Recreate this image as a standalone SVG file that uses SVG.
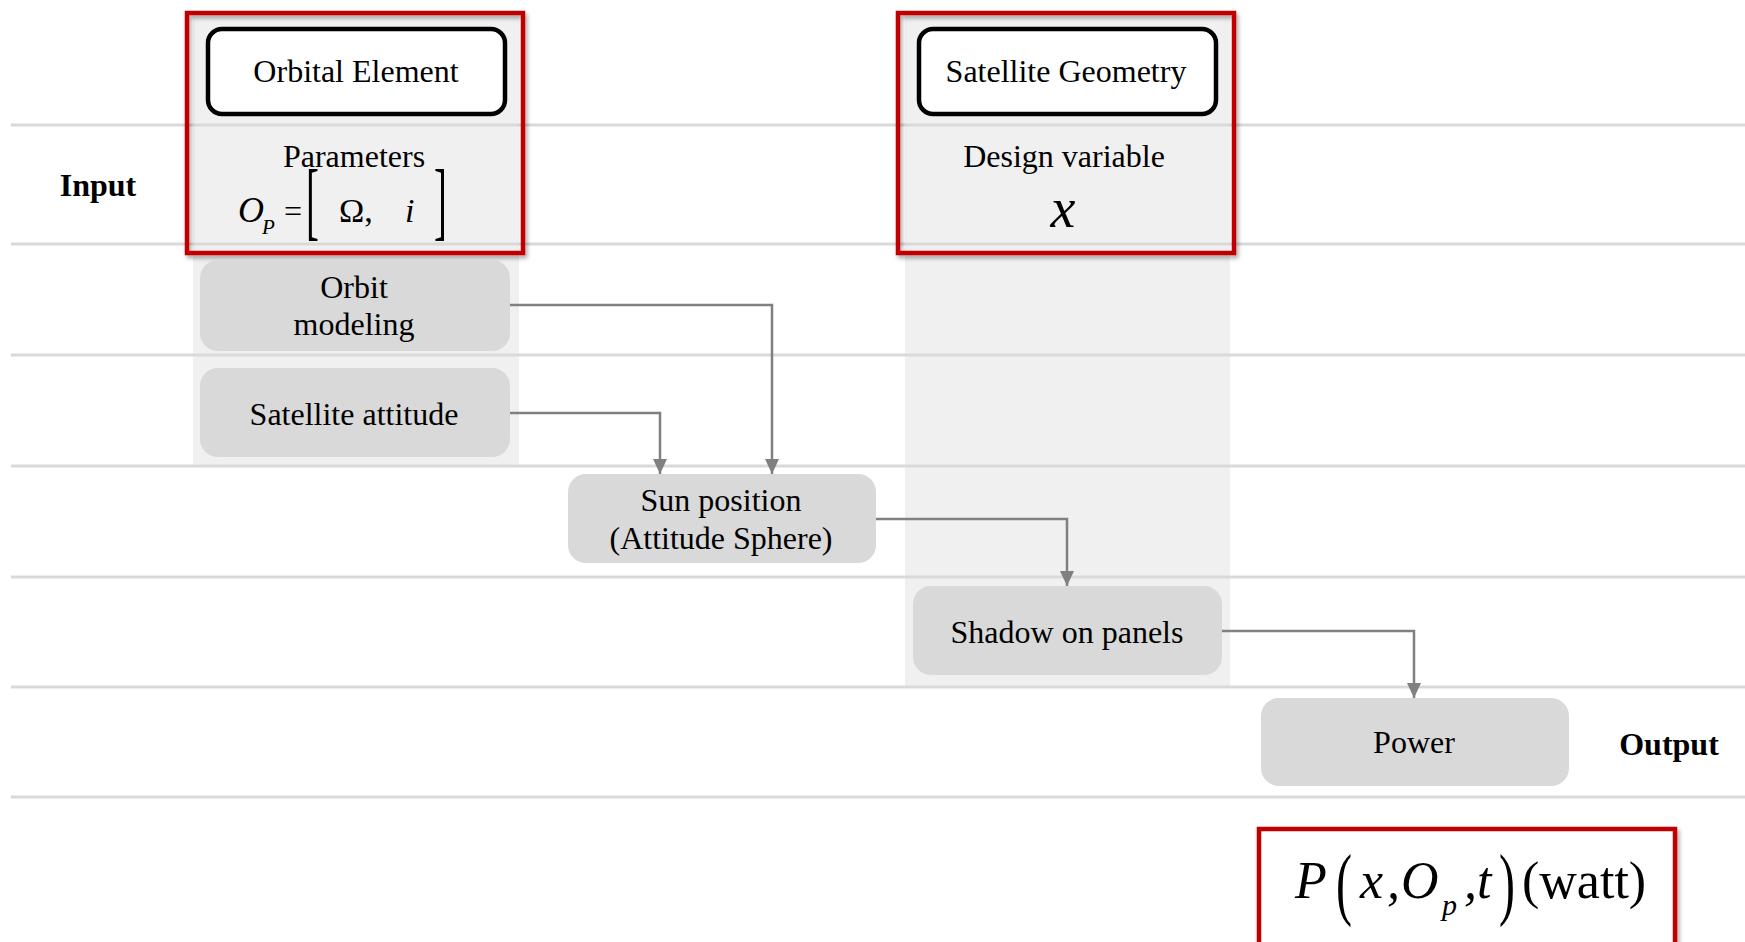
<svg xmlns="http://www.w3.org/2000/svg" width="1745" height="942" viewBox="0 0 1745 942">
<defs>
<style>
.lane{stroke:#d9d9d9;stroke-width:3}
.col{fill:#f0f0f0}
.node{fill:#d9d9d9}
.hdr{fill:#fff;stroke:#000;stroke-width:4.5}
.red{stroke:#c00000;stroke-width:4.5}
.t{font-family:"Liberation Serif","Times New Roman",serif;font-size:32px;fill:#000;text-anchor:middle}
.m{font-family:"Liberation Serif","Times New Roman",serif;fill:#000}
.b{font-weight:bold}
.it{font-style:italic}
.conn{fill:none;stroke:#808080;stroke-width:2.5}
</style>
<marker id="arr" markerWidth="16" markerHeight="14" refX="15" refY="7" orient="auto" markerUnits="userSpaceOnUse">
<path d="M0,0 L15,7 L0,14 z" fill="#808080"/>
</marker>
<filter id="sh" x="-10%" y="-10%" width="125%" height="130%">
<feDropShadow dx="2" dy="3" stdDeviation="2" flood-color="#000" flood-opacity="0.35"/>
</filter>
</defs>
<rect width="1745" height="942" fill="#fff"/>

<g id="columns">
<rect class="col" x="193" y="13" width="326" height="452"/>
<rect class="col" x="905" y="13" width="325" height="674"/>
</g>

<g id="lanes">
<line class="lane" x1="11" y1="125" x2="1745" y2="125"/>
<line class="lane" x1="11" y1="244" x2="1745" y2="244"/>
<line class="lane" x1="11" y1="355" x2="1745" y2="355"/>
<line class="lane" x1="11" y1="466" x2="1745" y2="466"/>
<line class="lane" x1="11" y1="577" x2="1745" y2="577"/>
<line class="lane" x1="11" y1="687" x2="1745" y2="687"/>
<line class="lane" x1="11" y1="797" x2="1745" y2="797"/>
</g>

<g id="labels">
<text class="t b" x="98" y="196">Input</text>
<text class="t b" x="1669" y="755">Output</text>
</g>

<g id="orbital-element">
<rect class="red" x="187" y="13" width="336" height="240" fill="none" filter="url(#sh)"/>
<rect class="hdr" x="208" y="29" width="297" height="85" rx="14"/>
<text class="t" x="356" y="82">Orbital Element</text>
<text class="t" x="354" y="167">Parameters</text>
<text class="m it" x="238" y="222" font-size="36">O</text>
<text class="m it" x="262" y="234" font-size="21">P</text>
<text class="m" x="284" y="222" font-size="32">=</text>
<text class="m" transform="translate(306,229) scale(0.45,1)" font-size="86">[</text>
<text class="m" x="339" y="222" font-size="34">Ω,</text>
<text class="m it" x="405" y="222" font-size="34">i</text>
<text class="m" transform="translate(434,229) scale(0.45,1)" font-size="86">]</text>
</g>

<g id="satellite-geometry">
<rect class="red" x="898" y="13" width="336" height="240" fill="none" filter="url(#sh)"/>
<rect class="hdr" x="919" y="29" width="297" height="85" rx="14"/>
<text class="t" x="1066" y="82">Satellite Geometry</text>
<text class="t" x="1064" y="167">Design variable</text>
<text class="m it" x="1063" y="227" font-size="56" text-anchor="middle">x</text>
</g>

<g id="orbit-modeling">
<rect class="node" x="200" y="260" width="310" height="91" rx="18"/>
<text class="t" x="354" y="298">Orbit</text>
<text class="t" x="354" y="335">modeling</text>
</g>

<g id="satellite-attitude">
<rect class="node" x="200" y="368" width="310" height="89" rx="18"/>
<text class="t" x="354" y="425">Satellite attitude</text>
</g>

<g id="sun-position">
<rect class="node" x="568" y="474" width="308" height="89" rx="18"/>
<text class="t" x="721" y="511">Sun position</text>
<text class="t" x="721" y="549">(Attitude Sphere)</text>
</g>

<g id="shadow-on-panels">
<rect class="node" x="913" y="586" width="309" height="89" rx="18"/>
<text class="t" x="1067" y="643">Shadow on panels</text>
</g>

<g id="power">
<rect class="node" x="1261" y="698" width="308" height="88" rx="18"/>
<text class="t" x="1414" y="753">Power</text>
</g>

<g id="power-formula">
<rect class="red" x="1259" y="829" width="416" height="120" fill="#fff" filter="url(#sh)"/>
<text class="m it" x="1295" y="898" font-size="52">P</text>
<text class="m" transform="translate(1336,910) scale(0.6,1)" font-size="80">(</text>
<text class="m it" x="1360" y="898" font-size="52">x</text>
<text class="m it" x="1387" y="898" font-size="52">,</text>
<text class="m it" x="1401" y="898" font-size="52">O</text>
<text class="m it" x="1442" y="915" font-size="30">p</text>
<text class="m it" x="1464" y="898" font-size="52">,</text>
<text class="m it" x="1477" y="898" font-size="52">t</text>
<text class="m" transform="translate(1499,910) scale(0.6,1)" font-size="80">)</text>
<text class="m" x="1522" y="898" font-size="52">(watt)</text>
</g>

<g id="connectors">
<path class="conn" d="M510,305 H772 V474" marker-end="url(#arr)"/>
<path class="conn" d="M510,413 H660 V474" marker-end="url(#arr)"/>
<path class="conn" d="M876,519 H1067 V586" marker-end="url(#arr)"/>
<path class="conn" d="M1222,631 H1414 V698" marker-end="url(#arr)"/>
</g>
</svg>
